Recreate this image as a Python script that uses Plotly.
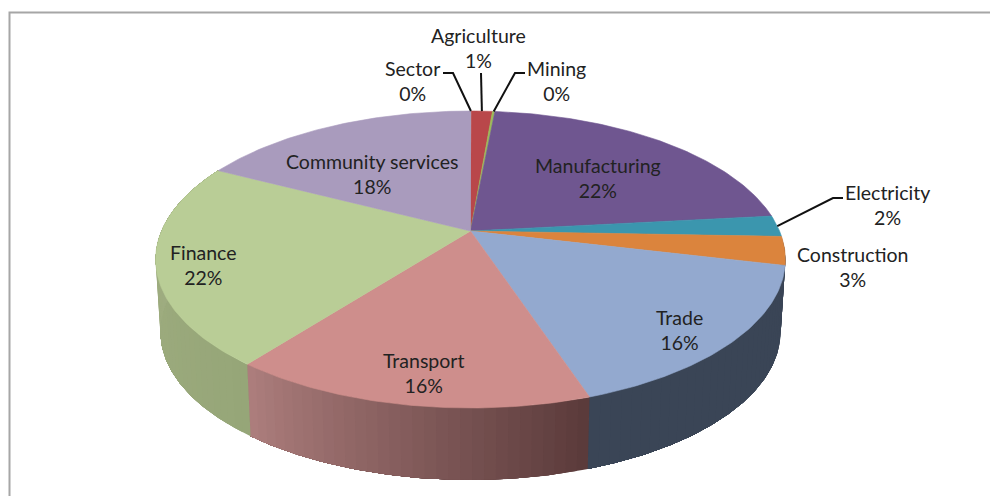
import math
import plotly.graph_objects as go

# ---- data (percent of the whole, clockwise from 12 o'clock)
sectors = ["Sector", "Agriculture", "Mining", "Manufacturing", "Electricity",
           "Construction", "Trade", "Transport", "Finance", "Community services"]
values = [0.05, 1.3, 0.15, 21.8, 2.3, 3.1, 16.2, 15.6, 22.1, 17.4]
shown = ["0%", "1%", "0%", "22%", "2%", "3%", "16%", "16%", "22%", "18%"]
top_colors = ["#a6a6a6", "#b9474a", "#9bbb59", "#6f5690", "#3b96ae",
              "#db843d", "#93a9cf", "#ce8e8c", "#b9cd96", "#a99bbd"]
# side shading: colour at the start and end of each visible rim (clockwise)
side_from = {"Trade": "#3a4556", "Transport": "#5a3a3a", "Finance": "#96a678",
             "Construction": "#3a4556"}
side_to = {"Trade": "#3a4556", "Transport": "#ad7e7d", "Finance": "#a3b084",
           "Construction": "#3a4556"}

# ---- geometry of the tilted disc
CX, CY, A, B, K = 470.5, 231.0, 309.0, 143.0, 0.192
DEPTH, SHRINK = 72.0, 0.985


def rim(pct, lower=False):
    t = 2 * math.pi * pct / 100
    u, v = math.sin(t), math.cos(t)
    d = 1 + K * v
    x, y = A * u / d, -B * v / d
    if lower:
        return CX + x * SHRINK, CY + y + DEPTH
    return CX + x, CY + y


def mix(c1, c2, f):
    a = [int(c1[i:i + 2], 16) for i in (1, 3, 5)]
    b = [int(c2[i:i + 2], 16) for i in (1, 3, 5)]
    return "rgb(%d,%d,%d)" % tuple(round(p + (q - p) * f) for p, q in zip(a, b))


fig = go.Figure()


def poly(xs, ys, color, lw=0.0):
    fig.add_trace(go.Scatter(x=xs, y=ys, mode="lines", fill="toself", fillcolor=color,
                             line=dict(color=color, width=lw), hoverinfo="skip",
                             showlegend=False))


edges = [0.0]
for val in values:
    edges.append(edges[-1] + val)

# sides first, the top face hides whatever lies behind it.
# Each strip runs on to the end of its slice, the next one paints over it, so no seams.
for i, name in enumerate(sectors):
    if name not in side_from:
        continue
    p0, p1 = edges[i], edges[i + 1]
    n = max(2, round((p1 - p0) * 2))
    for j in range(n):
        a0 = p0 + (p1 - p0) * j / n
        m = 4 * (n - j)
        pts = [a0 + (p1 - a0) * s / m for s in range(m + 1)]
        up = [rim(q) for q in pts]
        lo = [rim(q, True) for q in reversed(pts)]
        ring = up + lo + [up[0]]
        col = mix(side_from[name], side_to[name], (j + 0.5) / n)
        poly([q[0] for q in ring], [q[1] for q in ring], col)

# top face
for i in range(len(sectors)):
    p0, p1 = edges[i], edges[i + 1]
    n = max(2, round((p1 - p0) * 4))
    pts = [rim(p0 + (p1 - p0) * s / n) for s in range(n + 1)]
    poly([CX] + [q[0] for q in pts] + [CX], [CY] + [q[1] for q in pts] + [CY],
         top_colors[i], 0.6)

# leader lines: (sector, elbow, end)
leaders = {"Sector": [(453, 73), (443, 73)], "Agriculture": [(481, 73)],
           "Mining": [(515, 73), (525, 73)], "Electricity": [(833, 198), (843, 198)]}
for name, rest in leaders.items():
    i = sectors.index(name)
    sx, sy = rim((edges[i] + edges[i + 1]) / 2)
    xs = [sx] + [q[0] for q in rest]
    ys = [sy] + [q[1] for q in rest]
    fig.add_trace(go.Scatter(x=xs, y=ys, mode="lines", line=dict(color="#111111", width=2),
                             hoverinfo="skip", showlegend=False))

# label centres
label_at = {"Sector": (412, 80.5), "Agriculture": (478, 47.5), "Mining": (556, 80.5),
            "Manufacturing": (598, 177.5), "Electricity": (887, 204.5), "Construction": (852, 266.5),
            "Trade": (679, 329.5), "Transport": (423, 373), "Finance": (203, 264.5),
            "Community services": (372, 173.5)}
for name, text in zip(sectors, shown):
    x, y = label_at[name]
    fig.add_annotation(x=x, y=y, text=f"{name}<br>{text}", showarrow=False, align="center",
                       font=dict(family="Lato", size=19.5, color="#222222"))

fig.add_shape(type="rect", x0=9.5, y0=12.5, x1=1100, y1=700,
              line=dict(color="#a6a6a6", width=2), layer="below")

fig.update_layout(width=990, height=496, margin=dict(l=0, r=0, t=0, b=0),
                  paper_bgcolor="white", plot_bgcolor="white", showlegend=False,
                  xaxis=dict(range=[0, 990], visible=False, fixedrange=True),
                  yaxis=dict(range=[496, 0], visible=False, fixedrange=True))
fig.write_html("out.html", config={"displayModeBar": False},
               post_script="document.body.style.margin='0';")
